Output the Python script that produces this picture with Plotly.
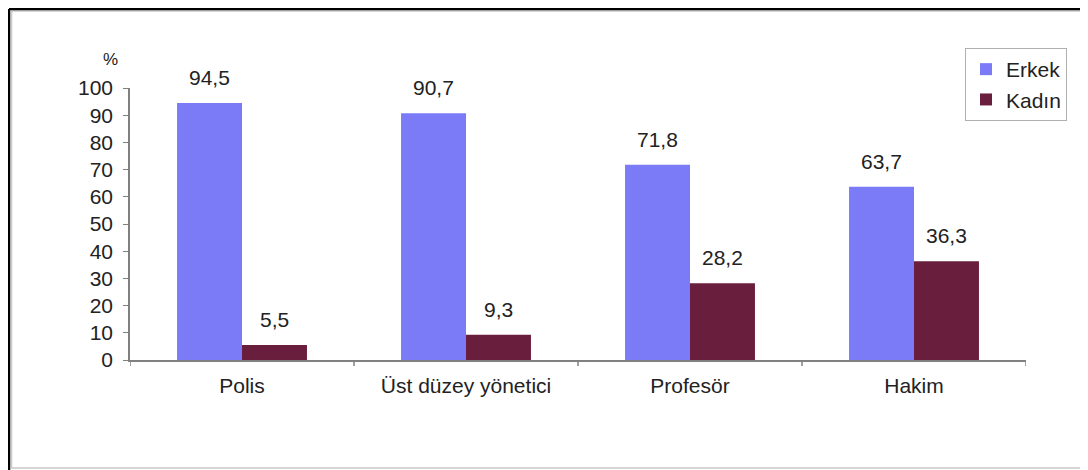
import plotly.graph_objects as go

categories = ["Polis", "Üst düzey yönetici", "Profesör", "Hakim"]
erkek = [94.5, 90.7, 71.8, 63.7]
kadin = [5.5, 9.3, 28.2, 36.3]
erkek_labels = ["94,5", "90,7", "71,8", "63,7"]
kadin_labels = ["5,5", "9,3", "28,2", "36,3"]
y_ticks = [0, 10, 20, 30, 40, 50, 60, 70, 80, 90, 100]

# page body has an 8px margin; work in reference pixel coords, shifted by OFF
OFF = 8
W, H = 1088 - OFF, 470 - OFF
L, R, T, B = 130 - OFF, 62, 88 - OFF, 110
PW, PH = W - L - R, H - T - B

def px(x):
    return (x - OFF - L) / PW

def py(y):
    return (H - B - (y - OFF)) / PH

FONT = "Liberation Sans, Arial, sans-serif"
FS = 21
C_E = "#7b7bf7"
C_K = "#6a1e3e"

fig = go.Figure()
fig.add_trace(go.Bar(name="Erkek", x=categories, y=erkek, marker=dict(color=C_E, line=dict(width=0))))
fig.add_trace(go.Bar(name="Kadın", x=categories, y=kadin, marker=dict(color=C_K, line=dict(width=0))))

annotations = []
bar_w = PW / len(categories) * 0.58 / 2
for i, c in enumerate(categories):
    annotations.append(dict(x=c, y=erkek[i], text=erkek_labels[i], xref="x", yref="y",
                            showarrow=False, yanchor="bottom", xshift=-bar_w / 2, yshift=12,
                            font=dict(family=FONT, size=FS, color="#222")))
    annotations.append(dict(x=c, y=kadin[i], text=kadin_labels[i], xref="x", yref="y",
                            showarrow=False, yanchor="bottom", xshift=bar_w / 2, yshift=12,
                            font=dict(family=FONT, size=FS, color="#222")))
annotations.append(dict(x=px(110), y=py(60), xref="paper", yref="paper", text="%",
                        xanchor="center", yanchor="middle",
                        showarrow=False, font=dict(family=FONT, size=17, color="#222")))

shapes = [
    dict(type="rect", xref="paper", yref="paper", x0=px(11.5), x1=px(1086), y0=py(468), y1=py(11),
         line=dict(color="#c8c8c8", width=1.5)),
    dict(type="line", xref="paper", yref="paper", x0=px(9), x1=px(9), y0=py(470), y1=py(9),
         line=dict(color="#000", width=2.5)),
    dict(type="line", xref="paper", yref="paper", x0=px(9), x1=px(1088), y0=py(9), y1=py(9),
         line=dict(color="#000", width=2.5)),
]

fig.update_layout(
    width=W, height=H,
    margin=dict(l=L, r=R, t=T, b=B),
    paper_bgcolor="white", plot_bgcolor="white",
    barmode="group", bargap=0.42, bargroupgap=0,
    font=dict(family=FONT, size=FS, color="#222"),
    showlegend=True,
    legend=dict(x=px(965), y=py(48), xanchor="left", yanchor="top",
                bordercolor="#b0b0b0", borderwidth=1, bgcolor="white",
                font=dict(family=FONT, size=FS, color="#222"), itemwidth=30,
                tracegroupgap=0),
    annotations=annotations,
    shapes=shapes,
    xaxis=dict(showline=True, linecolor="#808080", linewidth=1.5, ticks="",
               showgrid=False, tickfont=dict(size=FS), ticklabelstandoff=6),
    yaxis=dict(range=[0, 100], tickvals=y_ticks, showline=True, linecolor="#808080", linewidth=1.5,
               ticks="outside", ticklen=5, tickcolor="#808080", showgrid=False, zeroline=False,
               tickfont=dict(size=FS), ticklabelstandoff=6),
)

# category boundary ticks on the x-axis
for k in range(len(categories) + 1):
    fig.add_shape(type="line", xref="x", yref="paper", x0=k - 0.5, x1=k - 0.5,
                  y0=0, y1=-6 / PH, line=dict(color="#808080", width=1.5))
fig.update_xaxes(range=[-0.5, len(categories) - 0.5])

fig.write_html("out.html")
